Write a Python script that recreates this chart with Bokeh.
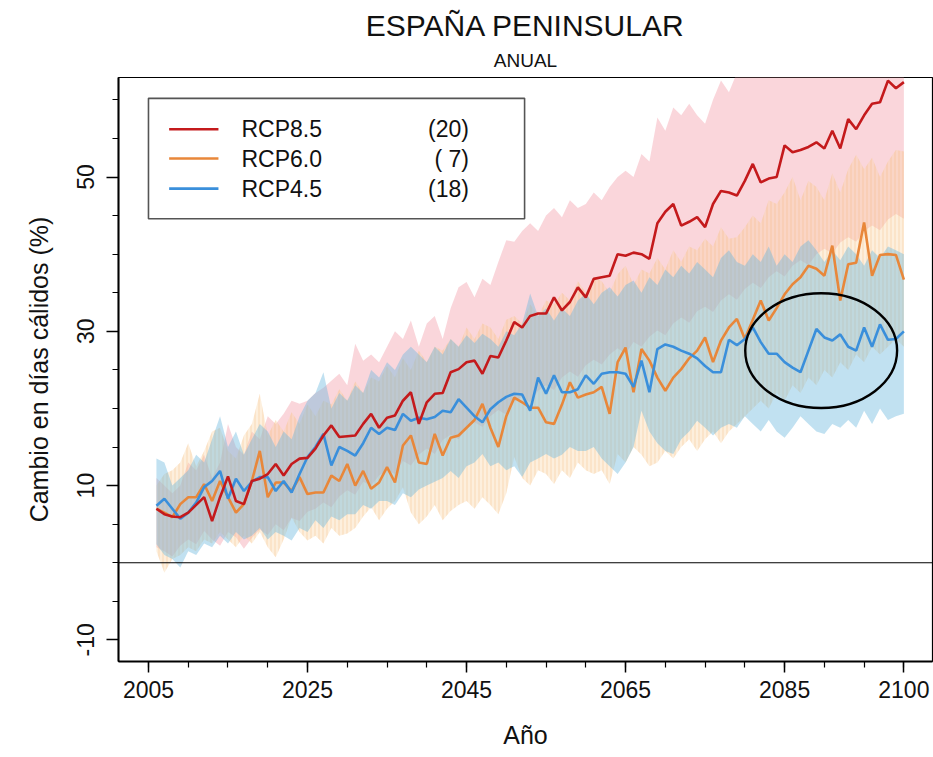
from bokeh.plotting import figure
from bokeh.models import FixedTicker, Span, Title, ColumnDataSource, Range1d
from bokeh.core.properties import value
from bokeh.embed import file_html
from bokeh.resources import INLINE

years = list(range(2006, 2101))

rcp85 = [7.0, 6.3, 6.0, 5.9, 6.5, 7.5, 8.5, 5.4, 8.5, 11.2,
         8.0, 7.6, 10.6, 10.9, 11.5, 12.8, 11.3, 12.8, 13.5, 13.6,
         14.8, 16.5, 17.8, 16.3, 16.4, 16.5, 18.0, 19.3, 17.5, 18.8,
         19.1, 21.0, 22.1, 18.0, 20.8, 21.9, 22.0, 24.7, 25.1, 26.0,
         26.2, 24.5, 26.8, 26.6, 28.8, 31.2, 30.5, 32.0, 32.3, 32.3,
         34.4, 32.7, 33.8, 35.7, 34.4, 36.8, 37.0, 37.2, 40.0, 39.8,
         40.2, 40.0, 39.4, 44.0, 45.5, 46.5, 43.7, 44.2, 44.8, 43.5,
         46.5, 48.2, 48.0, 47.6, 49.5, 51.7, 49.3, 49.8, 50.0, 54.1,
         53.2, 53.5, 53.9, 54.5, 53.7, 56.0, 53.7, 57.5, 56.2, 58.0,
         59.5, 59.7, 62.5, 61.5, 62.3]
rcp60 = [7.0, 6.5, 5.9, 7.6, 8.5, 8.5, 10.2, 8.0, 10.6, 8.5,
         6.5, 7.6, 10.6, 14.5, 8.5, 10.4, 10.4, 9.3, 11.1, 8.9,
         9.1, 9.1, 11.3, 10.6, 12.8, 10.0, 11.9, 9.6, 10.4, 12.4,
         10.4, 15.2, 16.5, 13.0, 12.8, 16.7, 13.9, 16.2, 16.5, 17.5,
         18.5, 20.6, 17.5, 15.0, 19.0, 21.4, 20.8, 20.1, 20.1, 18.2,
         18.0, 20.5, 23.4, 21.4, 21.8, 22.1, 22.8, 19.3, 26.0, 27.9,
         22.1, 27.7, 26.2, 24.0, 22.3, 24.0, 25.1, 26.5, 27.5, 29.2,
         26.0, 28.8, 30.5, 31.6, 29.0, 31.5, 34.0, 31.4, 33.0, 34.8,
         36.1, 37.0, 38.5, 38.1, 37.2, 41.1, 34.0, 38.7, 38.9, 44.1,
         37.2, 39.9, 40.0, 39.9, 36.7]
rcp45 = [7.4, 8.3, 7.0, 5.7, 6.5, 7.8, 9.8, 10.6, 11.9, 8.3,
         10.9, 9.3, 10.5, 11.1, 11.1, 9.3, 10.6, 9.1, 11.5, 13.7,
         15.0, 16.7, 12.6, 15.0, 14.5, 13.9, 15.5, 17.5, 16.7, 17.5,
         17.2, 19.3, 18.4, 18.8, 18.6, 18.9, 19.7, 19.5, 21.2, 20.1,
         19.0, 18.2, 19.9, 20.8, 21.5, 21.9, 21.8, 19.7, 24.0, 21.9,
         24.3, 22.1, 22.1, 22.5, 24.3, 23.2, 24.5, 24.7, 24.7, 24.5,
         22.8, 26.2, 22.1, 27.7, 28.3, 28.0, 27.5, 27.1, 26.5, 25.5,
         24.7, 24.7, 28.9, 28.2, 29.0, 30.5, 28.6, 27.1, 27.1, 26.0,
         25.3, 24.7, 27.5, 30.3, 29.2, 28.8, 29.6, 28.0, 27.5, 30.5,
         28.0, 30.9, 28.9, 29.0, 30.0]

rcp85_hi = [11.0, 10.0, 9.0, 10.0, 13.0, 12.0, 14.0, 11.0, 13.0, 18.0,
            15.0, 14.0, 17.0, 16.0, 19.0, 18.0, 19.3, 21.0, 20.6, 21.0,
            22.0, 22.7, 23.6, 24.5, 23.0, 28.4, 26.2, 27.0, 26.0, 28.0,
            30.0, 29.0, 31.4, 28.0, 31.0, 32.0, 29.0, 33.0, 35.7, 36.4,
            34.4, 36.8, 36.0, 39.0, 41.8, 41.6, 43.0, 44.0, 43.0, 45.0,
            46.0, 44.8, 47.0, 46.0, 46.5, 48.0, 47.0, 48.7, 50.0, 50.8,
            50.0, 53.0, 52.0, 57.7, 56.0, 59.0, 58.0, 59.5, 58.0, 56.9,
            60.0, 62.5, 61.0, 63.5, 64.0, 66.0, 65.0, 67.0, 66.0, 68.0,
            69.0, 68.0, 70.0, 71.0, 70.0, 72.0, 71.0, 73.0, 72.0, 74.0,
            75.0, 74.0, 76.0, 77.0, 78.0]
rcp85_lo = [2.0, 1.5, 0.8, 2.2, 3.0, 2.4, 4.1, 3.0, 2.2, 4.0,
            3.3, 1.8, 3.2, 4.3, 3.6, 5.0, 4.2, 5.8, 5.4, 6.6,
            7.0, 7.8, 7.2, 8.6, 9.4, 8.8, 10.5, 10.0, 11.3, 12.0,
            11.5, 13.2, 12.6, 14.0, 14.8, 14.1, 15.9, 16.6, 16.0, 17.5,
            18.2, 17.6, 19.0, 19.8, 19.2, 20.9, 21.5, 20.8, 22.3, 23.0,
            22.4, 24.0, 24.8, 24.1, 25.6, 26.3, 25.7, 27.0, 27.8, 27.1,
            28.6, 28.0, 29.3, 30.1, 29.5, 31.0, 31.8, 31.1, 32.6, 33.2,
            32.5, 34.0, 34.8, 34.1, 35.5, 36.3, 35.6, 37.0, 37.8, 37.1,
            38.5, 39.2, 38.6, 40.0, 40.7, 40.1, 41.5, 42.2, 41.6, 43.0,
            43.7, 43.1, 44.5, 45.2, 44.6]
rcp60_hi = [10.0, 11.5, 12.0, 13.0, 15.5, 12.5, 14.5, 17.0, 17.5, 14.5,
            13.5, 16.5, 18.0, 21.9, 16.5, 18.5, 17.0, 19.5, 18.0, 20.5,
            19.0, 21.0, 20.5, 22.5, 21.0, 23.5, 22.0, 24.0, 23.5, 25.5,
            24.0, 26.5, 25.0, 27.5, 26.0, 28.0, 27.5, 29.0, 28.0, 30.5,
            29.0, 31.0, 30.5, 29.0, 31.5, 32.0, 31.0, 33.5, 32.0, 34.0,
            33.5, 35.0, 34.0, 36.5, 35.0, 37.0, 36.5, 35.0, 37.4, 38.5,
            36.0, 38.0, 37.5, 39.5, 38.0, 40.5, 39.0, 41.0, 40.5, 42.0,
            41.0, 43.5, 42.0, 42.2, 43.5, 45.0, 44.0, 47.0, 46.5, 48.0,
            50.0, 47.0, 49.5, 48.7, 47.0, 50.5, 48.0, 51.0, 52.9, 51.0,
            52.5, 50.0, 52.0, 53.5, 53.3]
rcp60_lo = [1.5, -1.3, 0.5, 1.0, 2.0, 1.5, 3.0, 2.5, 4.0, 3.0,
            2.0, 3.5, 2.5, 4.0, 2.0, 0.7, 3.0, 5.9, 4.0, 2.9,
            3.5, 2.5, 4.5, 3.5, 3.8, 4.5, 6.0, 7.2, 5.5, 7.0,
            8.0, 9.8, 6.5, 5.0, 6.0, 7.5, 5.5, 6.7, 7.5, 8.0,
            7.0, 8.5, 7.5, 6.3, 9.0, 13.7, 11.0, 10.0, 12.0, 11.5,
            10.2, 12.0, 11.0, 13.0, 12.0, 11.5, 12.0, 10.2, 14.1, 13.0,
            15.0, 14.0, 12.5, 13.0, 14.5, 13.5, 15.0, 16.0, 14.5, 16.0,
            17.0, 15.5, 17.0, 18.0, 19.0, 20.0, 21.0, 20.0, 22.0, 21.0,
            23.0, 22.0, 24.0, 23.0, 25.0, 24.0, 26.0, 25.0, 27.0, 26.0,
            28.0, 27.0, 28.0, 29.0, 28.0]
rcp45_hi = [13.5, 13.0, 10.0, 11.0, 12.0, 14.0, 13.0, 16.0, 19.0, 15.0,
            17.0, 14.0, 16.0, 18.0, 17.0, 15.0, 17.0, 16.0, 19.0, 21.0,
            22.0, 24.7, 20.0, 22.0, 21.0, 23.0, 22.0, 25.0, 24.0, 26.0,
            25.0, 27.0, 28.0, 27.0, 26.0, 28.0, 27.0, 29.0, 28.0, 29.5,
            28.5, 29.7, 29.0, 28.0, 30.0, 29.5, 31.0, 34.9, 32.0, 33.0,
            31.4, 33.0, 32.0, 34.0, 34.9, 33.5, 35.0, 35.7, 34.5, 36.0,
            36.6, 35.0, 37.0, 36.0, 38.0, 37.0, 38.5, 37.5, 39.0, 38.0,
            37.0, 39.5, 40.5, 39.0, 38.5, 40.0, 39.0, 41.0, 38.5, 40.0,
            39.0, 41.0, 41.8, 40.5, 39.0, 40.5, 39.2, 41.0, 40.0, 38.5,
            40.5, 39.5, 41.0, 40.5, 40.0]
rcp45_lo = [2.4, 1.0, 0.5, -0.6, 1.5, 1.0, 2.5, 2.0, 3.5, 2.5,
            4.0, 3.0, 3.5, 4.5, 3.0, 4.0, 3.5, 2.9, 4.5, 4.0,
            5.5, 4.5, 6.0, 5.5, 6.3, 6.3, 7.5, 7.0, 8.0, 8.0,
            7.5, 9.0, 8.5, 9.5, 10.0, 10.5, 11.0, 11.9, 11.0, 12.5,
            13.0, 14.1, 12.5, 13.0, 12.0, 12.5, 11.1, 13.0, 13.5, 14.1,
            13.5, 14.0, 15.0, 14.5, 14.5, 15.0, 13.5, 12.5, 11.5, 13.0,
            15.0, 19.7, 17.0, 15.5, 14.5, 14.1, 16.0, 17.0, 18.4, 17.5,
            16.5, 17.5, 18.0, 17.5, 19.0, 18.0, 17.0, 18.5, 17.0, 16.2,
            17.5, 19.0, 18.0, 17.0, 16.7, 18.0, 17.5, 18.5, 17.5, 19.7,
            18.0, 20.0, 18.5, 19.0, 19.3]

scenarios = ["RCP8.5", "RCP6.0", "RCP4.5"]
model_counts = ["(20)", "( 7)", "(18)"]
x_major_ticks = [2005, 2025, 2045, 2065, 2085, 2100]
y_major_ticks = [-10, 10, 30, 50]

FONT = "Liberation Sans"
line_colors = {"RCP8.5": "#c41a1c", "RCP6.0": "#e8873a", "RCP4.5": "#3a8fdb"}

src = ColumnDataSource(dict(year=years, r85=rcp85, r60=rcp60, r45=rcp45,
                            r85hi=rcp85_hi, r85lo=rcp85_lo,
                            r60hi=rcp60_hi, r60lo=rcp60_lo,
                            r45hi=rcp45_hi, r45lo=rcp45_lo))

p = figure(width=933, height=757,
           x_range=Range1d(2001.23, 2103.6), y_range=Range1d(-12.8, 62.9),
           output_backend="svg", toolbar_location=None,
           min_border_left=118, min_border_right=1,
           min_border_top=77, min_border_bottom=96)
p.background_fill_color = "white"
p.border_fill_color = "white"
p.outline_line_color = "black"
p.outline_line_width = 1.2
p.xgrid.visible = False
p.ygrid.visible = False

# bands
p.varea(x="year", y1="r85lo", y2="r85hi", source=src,
        fill_color="#f5a3b0", fill_alpha=0.45)
p.varea(x="year", y1="r60lo", y2="r60hi", source=src,
        fill_color="#fad3a0", fill_alpha=0.36,
        hatch_pattern="vertical_line", hatch_color="#f3b06a",
        hatch_alpha=0.35, hatch_scale=4, hatch_weight=1)
p.varea(x="year", y1="r45lo", y2="r45hi", source=src,
        fill_color="#6cb8de", fill_alpha=0.42)

p.add_layout(Span(location=0, dimension="width", line_color="black", line_width=1.2))

# lines
p.line(x="year", y="r60", source=src, line_color=line_colors["RCP6.0"], line_width=2.6)
p.line(x="year", y="r45", source=src, line_color=line_colors["RCP4.5"], line_width=2.6)
p.line(x="year", y="r85", source=src, line_color=line_colors["RCP8.5"], line_width=2.6)

# highlighting ellipse
p.ellipse(x=[2089.6], y=[27.5], width=19.1, height=14.9,
          fill_color=None, line_color="black", line_width=2.4)

# legend (manual)
lx0, lx1, ly0, ly1 = 2005.0, 2052.3, 44.6, 60.2
p.quad(left=[lx0], right=[lx1], bottom=[ly0], top=[ly1],
       fill_color="white", line_color="#555555", line_width=1.6)
leg_y = [56.2, 52.4, 48.5]
p.segment(x0=[2007.6] * 3, x1=[2013.8] * 3, y0=leg_y, y1=leg_y,
          line_color=[line_colors[s] for s in scenarios], line_width=2.6)
p.text(x=[2016.7] * 3, y=leg_y, text=scenarios, text_font=value(FONT),
       text_font_size="23px", text_baseline="middle", text_align="left",
       text_color="#111111")
p.text(x=[2045.3] * 3, y=leg_y, text=model_counts, text_font=value(FONT),
       text_font_size="23px", text_baseline="middle", text_align="right",
       text_color="#111111")

# axes
p.xaxis.ticker = FixedTicker(ticks=x_major_ticks, minor_ticks=list(range(2005, 2101, 5)))
p.yaxis.ticker = FixedTicker(ticks=y_major_ticks, minor_ticks=list(range(-10, 61, 5)))
for ax in (p.xaxis[0], p.yaxis[0]):
    ax.axis_line_color = "black"
    ax.axis_line_width = 2
    ax.major_tick_line_color = "black"
    ax.major_tick_line_width = 1.5
    ax.minor_tick_line_color = "black"
    ax.minor_tick_line_width = 1.2
    ax.major_tick_in = 0
    ax.minor_tick_in = 0
    ax.major_label_text_font = FONT
    ax.major_label_text_font_size = "23px"
    ax.major_label_text_color = "#111111"
    ax.axis_label_text_font = FONT
    ax.axis_label_text_font_size = "25px"
    ax.axis_label_text_font_style = "normal"
    ax.axis_label_text_color = "#111111"
p.yaxis.major_label_overrides = {-10: "-10", 10: "10", 30: "30", 50: "50"}
p.xaxis.major_tick_out = 11
p.xaxis.minor_tick_out = 6
p.xaxis.major_label_standoff = 8
p.xaxis.axis_label = "Año"
p.xaxis.axis_label_standoff = 20
p.yaxis.major_tick_out = 12
p.yaxis.minor_tick_out = 6
p.yaxis.major_label_standoff = 12
p.yaxis.major_label_orientation = "vertical"
p.yaxis.axis_label = "Cambio en días cálidos (%)"
p.yaxis.axis_label_standoff = 22

# titles (outermost first)
p.title.text = "ESPAÑA PENINSULAR"
p.title.align = "center"
p.title.text_font = FONT
p.title.text_font_size = "30px"
p.title.text_font_style = "normal"
p.title.text_color = "#111111"
p.title.standoff = 0
p.add_layout(Title(text="ANUAL", align="center", text_font=FONT,
                   text_font_size="19px", text_font_style="normal",
                   text_color="#111111", standoff=13), "above")

open("out.html", "w").write(file_html(p, INLINE))
